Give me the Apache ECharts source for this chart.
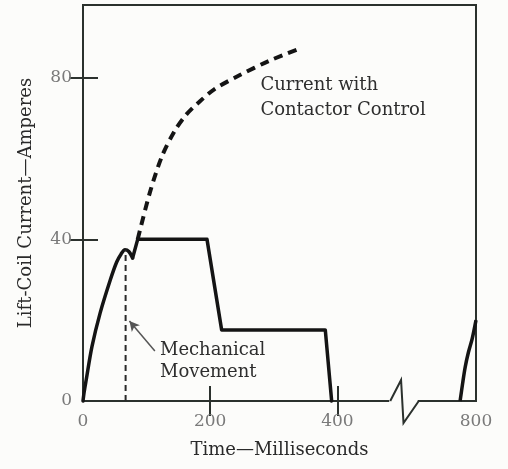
<!DOCTYPE html>
<html>
<head>
<meta charset="utf-8">
<script src="https://cdn.jsdelivr.net/npm/echarts@6/dist/echarts.min.js"></script>
<style>
  html, body { margin: 0; padding: 0; background: #fcfcfa; }
  #chart { width: 508px; height: 469px; }
</style>
</head>
<body>
<div id="chart"></div>
<script>
// Lift-coil current (A) against time (ms), with and without contactor control.
const timeTicks = [0, 200, 400, 800];
const innerTimeTicks = [200, 400];
const currentTicks = [0, 40, 80];
const innerCurrentTicks = [40, 80];
const timeBreak = { start: 480, end: 710, gap: 48 };

// Solid trace: rise until the armature moves, the hold plateaus, drop-out.
const riseTime    = [0, 2, 5, 14, 27, 43, 53, 60, 66, 72, 78];
const riseCurrent = [0, 2.4, 5.2, 13.4, 21.8, 30.0, 34.4, 36.4, 37.4, 37.0, 35.4];
const holdTime    = [78, 86, 195, 218, 381, 391];
const holdCurrent = [35.4, 40, 40, 17.6, 17.6, 0];
// Start of the next lift cycle.
const nextTime    = [775, 779, 783, 788, 794, 800];
const nextCurrent = [0, 4.4, 8.4, 12.0, 15.4, 20];

// Dashed trace: current keeps rising under contactor control.
const contactorTime    = [86, 105, 124, 144, 162, 184, 207, 246, 293, 344];
const contactorCurrent = [40, 51.5, 60.5, 66.8, 70.8, 74.2, 77.2, 80.6, 84.2, 87.4];

// Moment of mechanical movement.
const movementTime = 67;
const movementCurrent = 37.4;

const zip = (xs, ys) => xs.map((x, i) => [x, ys[i]]);

const ink = '#141414';
const frame = '#2b312d';
const serif = 'DejaVu Serif';

const chart = echarts.init(document.getElementById('chart'), null, { renderer: 'canvas' });

const xBase = {
  type: 'value',
  min: 0,
  max: 800,
  breaks: [{ start: timeBreak.start, end: timeBreak.end, gap: timeBreak.gap }],
  breakArea: { show: false },
  splitLine: { show: false },
  axisLine: { show: false }
};
const yBase = {
  type: 'value',
  min: 0,
  max: 98,
  interval: 40,
  splitLine: { show: false },
  axisLine: { show: false }
};

chart.setOption({
  backgroundColor: '#fcfcfa',
  animation: false,
  grid: {
    left: 83, right: 32, top: 5, bottom: 68,
    show: true, borderColor: frame, borderWidth: 2, backgroundColor: 'transparent'
  },
  xAxis: [
    Object.assign({}, xBase, {
      position: 'bottom',
      name: 'Time\u2014Milliseconds',
      nameLocation: 'middle',
      nameGap: 40,
      nameTextStyle: { fontFamily: serif, fontSize: 18, color: '#2a2a2a' },
      axisTick: { show: true, inside: true, length: 15, lineStyle: { color: frame, width: 2 }, customValues: innerTimeTicks },
      axisLabel: { show: true, margin: 12, fontFamily: serif, fontSize: 17, color: '#7a7a7a', customValues: timeTicks }
    }),
    Object.assign({}, xBase, {
      position: 'top',
      axisTick: { show: true, inside: true, length: 15, lineStyle: { color: frame, width: 2 }, customValues: innerTimeTicks },
      axisLabel: { show: false }
    })
  ],
  yAxis: [
    Object.assign({}, yBase, {
      position: 'left',
      name: 'Lift-Coil Current\u2014Amperes',
      nameLocation: 'middle',
      nameGap: 48,
      nameTextStyle: { fontFamily: serif, fontSize: 18, color: '#2a2a2a' },
      axisTick: { show: true, inside: true, length: 15, lineStyle: { color: frame, width: 2 }, customValues: innerCurrentTicks },
      axisLabel: { show: true, margin: 11, fontFamily: serif, fontSize: 17, color: '#7a7a7a', customValues: currentTicks }
    }),
    Object.assign({}, yBase, {
      position: 'right',
      axisTick: { show: true, inside: true, length: 14, lineStyle: { color: frame, width: 2 }, customValues: innerCurrentTicks },
      axisLabel: { show: false }
    })
  ],
  series: [
    {
      name: 'rise', type: 'line', data: zip(riseTime, riseCurrent),
      smooth: 0.3, symbol: 'none', clip: false,
      lineStyle: { color: ink, width: 3.5, cap: 'round', join: 'round' }
    },
    {
      name: 'hold', type: 'line', data: zip(holdTime, holdCurrent),
      symbol: 'none', clip: false,
      lineStyle: { color: ink, width: 3.5, cap: 'round', join: 'round' }
    },
    {
      name: 'next', type: 'line', data: zip(nextTime, nextCurrent),
      smooth: 0.3, symbol: 'none', clip: false,
      lineStyle: { color: ink, width: 3.5, cap: 'butt' }
    },
    {
      name: 'contactor', type: 'line', data: zip(contactorTime, contactorCurrent),
      smooth: 0.3, symbol: 'none', clip: false,
      lineStyle: { color: ink, width: 4, type: [9, 6] }
    },
    {
      name: 'movement', type: 'line',
      data: [[movementTime, 0], [movementTime, movementCurrent]],
      symbol: 'none',
      lineStyle: { color: '#2a2a2a', width: 2, type: [6, 4] },
      markLine: {
        silent: true,
        symbol: ['none', 'arrow'],
        symbolSize: [8, 10],
        label: { show: false },
        lineStyle: { color: '#555', width: 1.5, type: 'solid' },
        data: [[{ coord: [113, 12.4] }, { coord: [73, 19.8] }]]
      }
    }
  ]
});

// Annotations placed in data space.
const px = (t, a) => chart.convertToPixel({ xAxisIndex: 0, yAxisIndex: 0 }, [t, a]);
const note = (t, a, text) => {
  const p = px(t, a);
  return {
    type: 'text', x: p[0], y: p[1], silent: true,
    style: { text: text, fontFamily: serif, fontSize: 18, fill: '#2e2e2e', align: 'left', verticalAlign: 'middle' }
  };
};

// Axis-break mark on the time axis.
const b0 = px(timeBreak.start, 0);
const b1 = px(timeBreak.end, 0);
const w = b1[0] - b0[0];
const baseY = b0[1];

chart.setOption({
  graphic: [
    note(279, 78.2, 'Current with'),
    note(279, 72.0, 'Contactor Control'),
    note(121, 12.6, 'Mechanical'),
    note(121, 7.2, 'Movement'),
    {
      type: 'line', silent: true, z: 50,
      shape: { x1: b0[0] + 1, y1: baseY, x2: b1[0] - 1, y2: baseY },
      style: { stroke: '#fcfcfa', lineWidth: 4 }
    },
    {
      type: 'polyline', silent: true, z: 51,
      shape: { points: [
        [b0[0] + 2, baseY],
        [b0[0] + w * 0.42, baseY - 21],
        [b0[0] + w * 0.5, baseY + 22],
        [b1[0], baseY]
      ] },
      style: { stroke: frame, lineWidth: 2, fill: null, lineJoin: 'miter' }
    }
  ]
});
</script>
</body>
</html>
